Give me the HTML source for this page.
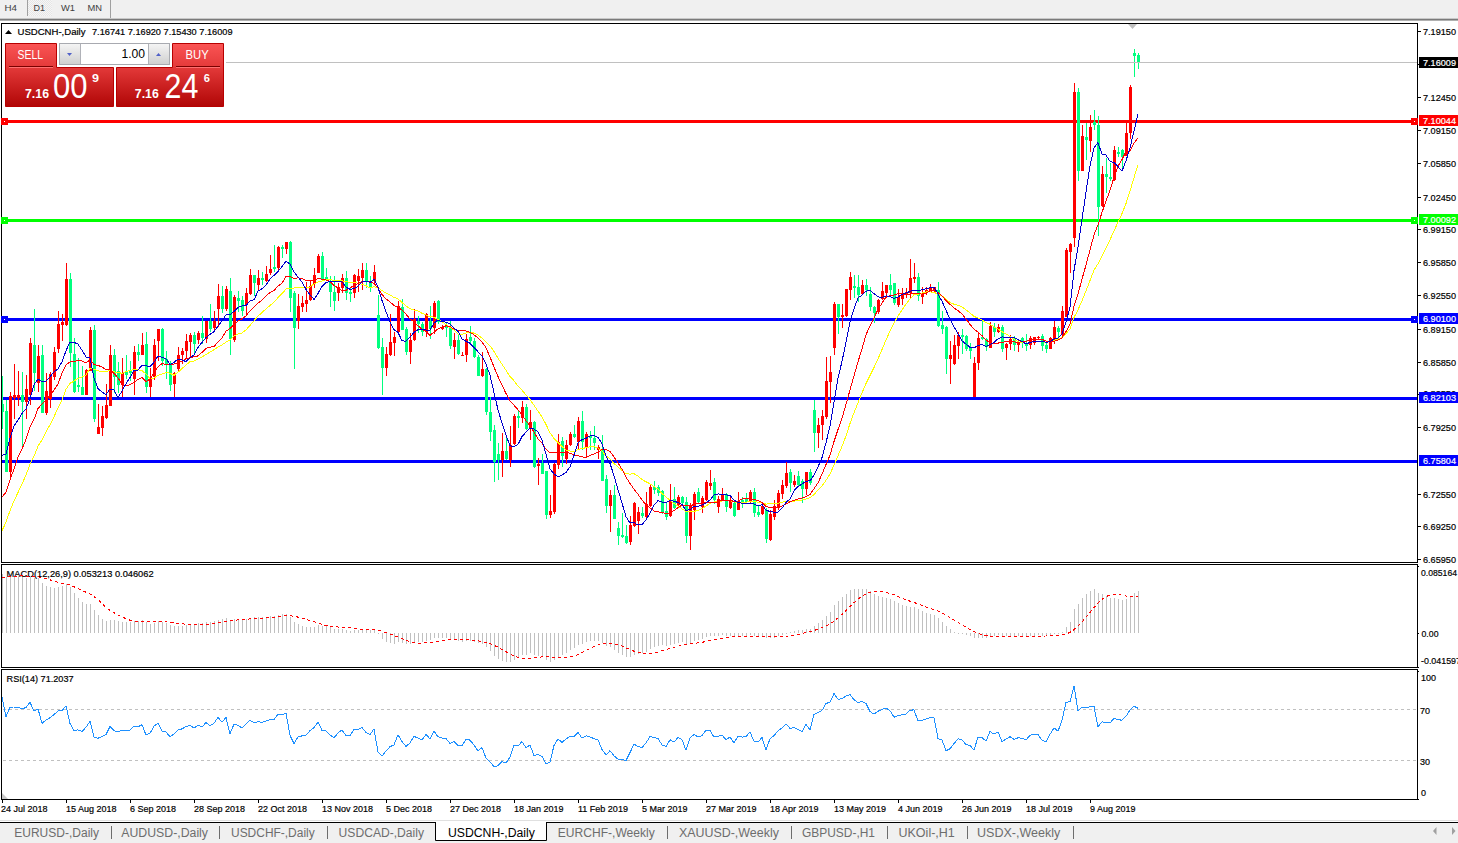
<!DOCTYPE html>
<html><head><meta charset="utf-8"><title>USDCNH Daily</title>
<style>html,body{margin:0;padding:0;background:#fff;width:1458px;height:843px;overflow:hidden;font-family:"Liberation Sans", sans-serif;}svg{display:block}</style>
</head><body><svg width="1458" height="843" viewBox="0 0 1458 843" font-family='"Liberation Sans", sans-serif'><rect x="0" y="0" width="1458" height="19" fill="#f0f0f0"/>
<rect x="0" y="18" width="1458" height="1" fill="#c8c8c8"/>
<rect x="0" y="19" width="1458" height="1" fill="#7a7a7a"/>
<rect x="0" y="20" width="1458" height="1" fill="#b0b0b0"/>
<defs><pattern id="chk" width="2" height="2" patternUnits="userSpaceOnUse"><rect width="2" height="2" fill="#f6f6f6"/><rect width="1" height="1" fill="#e6e6e6"/><rect x="1" y="1" width="1" height="1" fill="#e6e6e6"/></pattern><linearGradient id="rg" x1="0" y1="0" x2="0" y2="1"><stop offset="0" stop-color="#f65252"/><stop offset="1" stop-color="#e02a2a"/></linearGradient><linearGradient id="rg2" x1="0" y1="0" x2="0" y2="1"><stop offset="0" stop-color="#e03434"/><stop offset="1" stop-color="#b20606"/></linearGradient><linearGradient id="gg" x1="0" y1="0" x2="0" y2="1"><stop offset="0" stop-color="#f4f4f4"/><stop offset="1" stop-color="#d0d0d0"/></linearGradient><clipPath id="mainclip"><rect x="2" y="24" width="1415" height="538"/></clipPath></defs>
<rect x="28" y="0" width="24" height="16" fill="url(#chk)"/>
<rect x="27" y="0" width="1" height="16" fill="#a0a0a0"/>
<rect x="110" y="0" width="1" height="18" fill="#a0a0a0"/>
<text x="4.5" y="11" font-size="9.5" fill="#404040" font-weight="normal" text-anchor="start" textLength="12.5" lengthAdjust="spacingAndGlyphs" >H4</text>
<text x="33.5" y="11" font-size="9.5" fill="#404040" font-weight="normal" text-anchor="start" textLength="11.5" lengthAdjust="spacingAndGlyphs" >D1</text>
<text x="61" y="11" font-size="9.5" fill="#404040" font-weight="normal" text-anchor="start" textLength="14" lengthAdjust="spacingAndGlyphs" >W1</text>
<text x="87.5" y="11" font-size="9.5" fill="#404040" font-weight="normal" text-anchor="start" textLength="14.5" lengthAdjust="spacingAndGlyphs" >MN</text>
<rect x="1.5" y="23.5" width="1416" height="539" fill="none" stroke="#000" stroke-width="1"/>
<rect x="1.5" y="564.5" width="1416" height="103" fill="none" stroke="#000" stroke-width="1"/>
<rect x="1.5" y="669.5" width="1416" height="130" fill="none" stroke="#000" stroke-width="1"/>
<rect x="1418" y="31" width="3" height="1" fill="#000"/>
<text x="1423" y="35" font-size="9.6" fill="#000" font-weight="normal" text-anchor="start" stroke="#000" stroke-width="0.2" textLength="33" lengthAdjust="spacingAndGlyphs" >7.19150</text>
<rect x="1418" y="97" width="3" height="1" fill="#000"/>
<text x="1423" y="101" font-size="9.6" fill="#000" font-weight="normal" text-anchor="start" stroke="#000" stroke-width="0.2" textLength="33" lengthAdjust="spacingAndGlyphs" >7.12450</text>
<rect x="1418" y="130" width="3" height="1" fill="#000"/>
<text x="1423" y="134" font-size="9.6" fill="#000" font-weight="normal" text-anchor="start" stroke="#000" stroke-width="0.2" textLength="33" lengthAdjust="spacingAndGlyphs" >7.09150</text>
<rect x="1418" y="163" width="3" height="1" fill="#000"/>
<text x="1423" y="167" font-size="9.6" fill="#000" font-weight="normal" text-anchor="start" stroke="#000" stroke-width="0.2" textLength="33" lengthAdjust="spacingAndGlyphs" >7.05850</text>
<rect x="1418" y="197" width="3" height="1" fill="#000"/>
<text x="1423" y="201" font-size="9.6" fill="#000" font-weight="normal" text-anchor="start" stroke="#000" stroke-width="0.2" textLength="33" lengthAdjust="spacingAndGlyphs" >7.02450</text>
<rect x="1418" y="229" width="3" height="1" fill="#000"/>
<text x="1423" y="233" font-size="9.6" fill="#000" font-weight="normal" text-anchor="start" stroke="#000" stroke-width="0.2" textLength="33" lengthAdjust="spacingAndGlyphs" >6.99150</text>
<rect x="1418" y="262" width="3" height="1" fill="#000"/>
<text x="1423" y="266" font-size="9.6" fill="#000" font-weight="normal" text-anchor="start" stroke="#000" stroke-width="0.2" textLength="33" lengthAdjust="spacingAndGlyphs" >6.95850</text>
<rect x="1418" y="295" width="3" height="1" fill="#000"/>
<text x="1423" y="299" font-size="9.6" fill="#000" font-weight="normal" text-anchor="start" stroke="#000" stroke-width="0.2" textLength="33" lengthAdjust="spacingAndGlyphs" >6.92550</text>
<rect x="1418" y="329" width="3" height="1" fill="#000"/>
<text x="1423" y="333" font-size="9.6" fill="#000" font-weight="normal" text-anchor="start" stroke="#000" stroke-width="0.2" textLength="33" lengthAdjust="spacingAndGlyphs" >6.89150</text>
<rect x="1418" y="362" width="3" height="1" fill="#000"/>
<text x="1423" y="366" font-size="9.6" fill="#000" font-weight="normal" text-anchor="start" stroke="#000" stroke-width="0.2" textLength="33" lengthAdjust="spacingAndGlyphs" >6.85850</text>
<rect x="1418" y="427" width="3" height="1" fill="#000"/>
<text x="1423" y="431" font-size="9.6" fill="#000" font-weight="normal" text-anchor="start" stroke="#000" stroke-width="0.2" textLength="33" lengthAdjust="spacingAndGlyphs" >6.79250</text>
<rect x="1418" y="494" width="3" height="1" fill="#000"/>
<text x="1423" y="498" font-size="9.6" fill="#000" font-weight="normal" text-anchor="start" stroke="#000" stroke-width="0.2" textLength="33" lengthAdjust="spacingAndGlyphs" >6.72550</text>
<rect x="1418" y="526" width="3" height="1" fill="#000"/>
<text x="1423" y="530" font-size="9.6" fill="#000" font-weight="normal" text-anchor="start" stroke="#000" stroke-width="0.2" textLength="33" lengthAdjust="spacingAndGlyphs" >6.69250</text>
<rect x="1418" y="559" width="3" height="1" fill="#000"/>
<text x="1423" y="563" font-size="9.6" fill="#000" font-weight="normal" text-anchor="start" stroke="#000" stroke-width="0.2" textLength="33" lengthAdjust="spacingAndGlyphs" >6.65950</text>
<rect x="1418" y="394" width="2" height="1" fill="#000"/>
<text x="1423" y="397" font-size="9.6" fill="#000" font-weight="normal" text-anchor="start" stroke="#000" stroke-width="0.2" textLength="33" lengthAdjust="spacingAndGlyphs" >6.82550</text>
<rect x="1418" y="64" width="2" height="1" fill="#000"/>
<text x="1423" y="67" font-size="9.6" fill="#000" font-weight="normal" text-anchor="start" stroke="#000" stroke-width="0.2" textLength="33" lengthAdjust="spacingAndGlyphs" >7.15850</text>
<rect x="2" y="120" width="1415" height="3" fill="#ff0000"/>
<rect x="1" y="118" width="7" height="7" fill="#ff0000"/><rect x="4" y="121" width="1" height="1" fill="#fff"/>
<rect x="1411" y="118" width="7" height="7" fill="#ff0000"/><rect x="1414" y="121" width="1" height="1" fill="#fff"/>
<rect x="1419" y="115" width="39" height="11" fill="#ff0000"/>
<text x="1423" y="124" font-size="9.6" fill="#fff" font-weight="normal" text-anchor="start" stroke="#fff" stroke-width="0.2" textLength="33" lengthAdjust="spacingAndGlyphs" >7.10044</text>
<rect x="2" y="219" width="1415" height="3" fill="#00ff00"/>
<rect x="1" y="217" width="7" height="7" fill="#00ff00"/><rect x="4" y="220" width="1" height="1" fill="#fff"/>
<rect x="1411" y="217" width="7" height="7" fill="#00ff00"/><rect x="1414" y="220" width="1" height="1" fill="#fff"/>
<rect x="1419" y="214" width="39" height="11" fill="#00ff00"/>
<text x="1423" y="223" font-size="9.6" fill="#fff" font-weight="normal" text-anchor="start" stroke="#fff" stroke-width="0.2" textLength="33" lengthAdjust="spacingAndGlyphs" >7.00092</text>
<rect x="2" y="318" width="1415" height="3" fill="#0000ff"/>
<rect x="1" y="316" width="7" height="7" fill="#0000ff"/><rect x="4" y="319" width="1" height="1" fill="#fff"/>
<rect x="1411" y="316" width="7" height="7" fill="#0000ff"/><rect x="1414" y="319" width="1" height="1" fill="#fff"/>
<rect x="1419" y="313" width="39" height="11" fill="#0000ff"/>
<text x="1423" y="322" font-size="9.6" fill="#fff" font-weight="normal" text-anchor="start" stroke="#fff" stroke-width="0.2" textLength="33" lengthAdjust="spacingAndGlyphs" >6.90100</text>
<rect x="2" y="397" width="1415" height="3" fill="#0000ff"/>
<rect x="1419" y="392" width="39" height="11" fill="#0000ff"/>
<text x="1423" y="401" font-size="9.6" fill="#fff" font-weight="normal" text-anchor="start" stroke="#fff" stroke-width="0.2" textLength="33" lengthAdjust="spacingAndGlyphs" >6.82103</text>
<rect x="2" y="460" width="1415" height="3" fill="#0000ff"/>
<rect x="1419" y="455" width="39" height="11" fill="#0000ff"/>
<text x="1423" y="464" font-size="9.6" fill="#fff" font-weight="normal" text-anchor="start" stroke="#fff" stroke-width="0.2" textLength="33" lengthAdjust="spacingAndGlyphs" >6.75804</text>
<g clip-path="url(#mainclip)">
<path d="M10 392h1v88h-1zM9 396h3v76h-3zM14 364h1v55h-1zM13 395h3v3h-3zM18 371h1v35h-1zM17 395h3v3h-3zM26 375h1v44h-1zM25 389h3v13h-3zM30 338h1v67h-1zM29 343h3v52h-3zM38 345h1v47h-1zM37 356h3v27h-3zM46 373h1v42h-1zM45 391h3v22h-3zM50 372h1v36h-1zM49 374h3v25h-3zM54 347h1v33h-1zM53 352h3v25h-3zM58 311h1v42h-1zM57 324h3v25h-3zM62 314h1v27h-1zM61 322h3v3h-3zM66 263h1v63h-1zM65 279h3v46h-3zM86 369h1v26h-1zM85 370h3v25h-3zM90 327h1v44h-1zM89 330h3v41h-3zM98 404h1v30h-1zM97 427h3v7h-3zM102 406h1v30h-1zM101 416h3v12h-3zM106 384h1v35h-1zM105 405h3v13h-3zM110 345h1v61h-1zM109 355h3v51h-3zM122 358h1v39h-1zM121 373h3v12h-3zM134 346h1v49h-1zM133 352h3v27h-3zM142 333h1v22h-1zM141 345h3v10h-3zM150 368h1v29h-1zM149 379h3v8h-3zM154 339h1v41h-1zM153 345h3v32h-3zM158 329h1v32h-1zM157 329h3v12h-3zM174 372h1v25h-1zM173 373h3v11h-3zM178 347h1v24h-1zM177 355h3v14h-3zM182 348h1v16h-1zM181 351h3v4h-3zM186 334h1v24h-1zM185 341h3v10h-3zM190 333h1v24h-1zM189 335h3v7h-3zM198 331h1v13h-1zM197 333h3v7h-3zM206 321h1v22h-1zM205 321h3v18h-3zM214 311h1v19h-1zM213 321h3v7h-3zM218 284h1v43h-1zM217 296h3v13h-3zM226 286h1v25h-1zM225 289h3v20h-3zM234 295h1v47h-1zM233 297h3v43h-3zM246 288h1v27h-1zM245 293h3v12h-3zM250 269h1v26h-1zM249 275h3v19h-3zM258 270h1v21h-1zM257 278h3v7h-3zM266 266h1v16h-1zM265 274h3v7h-3zM270 255h1v20h-1zM269 269h3v4h-3zM278 246h1v24h-1zM277 247h3v21h-3zM286 242h1v12h-1zM285 242h3v7h-3zM298 294h1v35h-1zM297 306h3v15h-3zM302 296h1v16h-1zM301 303h3v4h-3zM306 282h1v30h-1zM305 300h3v4h-3zM310 281h1v20h-1zM309 286h3v14h-3zM314 268h1v20h-1zM313 275h3v9h-3zM318 254h1v19h-1zM317 256h3v17h-3zM338 283h1v18h-1zM337 287h3v6h-3zM342 274h1v19h-1zM341 278h3v10h-3zM354 274h1v24h-1zM353 275h3v18h-3zM358 269h1v23h-1zM357 276h3v5h-3zM362 263h1v27h-1zM361 270h3v8h-3zM374 265h1v19h-1zM373 272h3v9h-3zM386 347h1v29h-1zM385 354h3v14h-3zM390 314h1v42h-1zM389 342h3v13h-3zM394 332h1v24h-1zM393 337h3v6h-3zM398 301h1v32h-1zM397 306h3v26h-3zM410 333h1v31h-1zM409 340h3v12h-3zM414 309h1v32h-1zM413 319h3v21h-3zM426 313h1v24h-1zM425 314h3v18h-3zM434 301h1v33h-1zM433 303h3v25h-3zM442 325h1v5h-1zM441 327h3v2h-3zM454 333h1v26h-1zM453 340h3v7h-3zM462 352h1v4h-1zM461 355h3v1h-3zM466 334h1v28h-1zM465 339h3v16h-3zM482 352h1v25h-1zM481 369h3v7h-3zM502 433h1v44h-1zM501 451h3v9h-3zM510 426h1v41h-1zM509 445h3v15h-3zM514 414h1v31h-1zM513 416h3v28h-3zM522 401h1v22h-1zM521 407h3v11h-3zM530 410h1v30h-1zM529 422h3v7h-3zM538 458h1v27h-1zM537 464h3v2h-3zM550 495h1v23h-1zM549 511h3v4h-3zM554 463h1v51h-1zM553 464h3v48h-3zM558 434h1v35h-1zM557 442h3v23h-3zM566 440h1v24h-1zM565 445h3v14h-3zM570 432h1v14h-1zM569 434h3v11h-3zM578 417h1v33h-1zM577 421h3v21h-3zM586 432h1v26h-1zM585 434h3v14h-3zM598 445h1v14h-1zM597 447h3v3h-3zM610 490h1v42h-1zM609 495h3v11h-3zM630 516h1v29h-1zM629 525h3v17h-3zM634 502h1v25h-1zM633 503h3v23h-3zM638 507h1v27h-1zM637 512h3v9h-3zM646 492h1v26h-1zM645 504h3v13h-3zM650 485h1v22h-1zM649 487h3v19h-3zM670 484h1v33h-1zM669 501h3v15h-3zM678 495h1v12h-1zM677 497h3v8h-3zM690 503h1v47h-1zM689 505h3v31h-3zM694 492h1v28h-1zM693 494h3v16h-3zM702 496h1v17h-1zM701 498h3v9h-3zM706 480h1v21h-1zM705 482h3v18h-3zM710 470h1v20h-1zM709 483h3v3h-3zM718 496h1v17h-1zM717 499h3v8h-3zM722 488h1v12h-1zM721 495h3v5h-3zM730 496h1v13h-1zM729 501h3v7h-3zM738 492h1v18h-1zM737 501h3v9h-3zM750 490h1v13h-1zM749 492h3v9h-3zM762 504h1v11h-1zM761 506h3v8h-3zM770 510h1v31h-1zM769 514h3v26h-3zM774 500h1v20h-1zM773 506h3v11h-3zM778 490h1v20h-1zM777 493h3v14h-3zM782 480h1v19h-1zM781 485h3v9h-3zM786 462h1v26h-1zM785 473h3v13h-3zM794 475h1v12h-1zM793 481h3v4h-3zM806 472h1v23h-1zM805 472h3v17h-3zM818 418h1v30h-1zM817 425h3v8h-3zM822 410h1v30h-1zM821 416h3v9h-3zM826 357h1v62h-1zM825 381h3v36h-3zM830 356h1v47h-1zM829 372h3v10h-3zM834 302h1v53h-1zM833 304h3v44h-3zM842 304h1v24h-1zM841 315h3v2h-3zM846 289h1v28h-1zM845 289h3v27h-3zM850 272h1v28h-1zM849 277h3v13h-3zM862 280h1v15h-1zM861 285h3v9h-3zM878 299h1v15h-1zM877 300h3v12h-3zM882 282h1v18h-1zM881 291h3v8h-3zM886 285h1v13h-1zM885 285h3v8h-3zM898 289h1v18h-1zM897 297h3v8h-3zM902 288h1v17h-1zM901 294h3v5h-3zM906 288h1v10h-1zM905 292h3v3h-3zM910 259h1v39h-1zM909 278h3v15h-3zM914 263h1v20h-1zM913 277h3v2h-3zM922 287h1v17h-1zM921 294h3v3h-3zM926 287h1v8h-1zM925 290h3v3h-3zM930 284h1v8h-1zM929 287h3v5h-3zM934 287h1v5h-1zM933 287h3v4h-3zM950 341h1v43h-1zM949 355h3v4h-3zM954 335h1v30h-1zM953 345h3v19h-3zM958 332h1v27h-1zM957 335h3v11h-3zM974 357h1v40h-1zM973 363h3v34h-3zM978 333h1v37h-1zM977 338h3v25h-3zM990 322h1v26h-1zM989 326h3v22h-3zM998 324h1v9h-1zM997 327h3v5h-3zM1006 343h1v17h-1zM1005 344h3v4h-3zM1010 335h1v15h-1zM1009 339h3v5h-3zM1018 340h1v12h-1zM1017 342h3v3h-3zM1030 336h1v13h-1zM1029 338h3v7h-3zM1034 337h1v8h-1zM1033 337h3v6h-3zM1038 336h1v4h-1zM1037 337h3v1h-3zM1050 337h1v12h-1zM1049 338h3v11h-3zM1054 321h1v23h-1zM1053 327h3v12h-3zM1062 306h1v32h-1zM1061 311h3v24h-3zM1066 248h1v69h-1zM1065 250h3v67h-3zM1070 243h1v30h-1zM1069 244h3v8h-3zM1074 83h1v164h-1zM1073 92h3v146h-3zM1082 125h1v46h-1zM1081 136h3v35h-3zM1090 115h1v37h-1zM1089 127h3v14h-3zM1102 166h1v41h-1zM1101 174h3v32h-3zM1114 146h1v35h-1zM1113 150h3v30h-3zM1126 122h1v34h-1zM1125 133h3v23h-3zM1130 85h1v54h-1zM1129 87h3v46h-3z" fill="#ff0000"/>
<path d="M2 376h1v53h-1zM1 404h3v8h-3zM6 400h1v72h-1zM5 411h3v61h-3zM22 372h1v75h-1zM21 395h3v7h-3zM34 309h1v82h-1zM33 345h3v28h-3zM42 345h1v68h-1zM41 355h3v58h-3zM70 273h1v94h-1zM69 279h3v74h-3zM74 338h1v55h-1zM73 354h3v38h-3zM78 358h1v34h-1zM77 385h3v2h-3zM82 366h1v29h-1zM81 387h3v8h-3zM94 325h1v97h-1zM93 330h3v89h-3zM114 349h1v44h-1zM113 355h3v22h-3zM118 362h1v31h-1zM117 371h3v14h-3zM126 355h1v24h-1zM125 371h3v4h-3zM130 361h1v20h-1zM129 370h3v3h-3zM138 344h1v17h-1zM137 352h3v3h-3zM146 332h1v61h-1zM145 344h3v43h-3zM162 328h1v38h-1zM161 329h3v32h-3zM166 351h1v28h-1zM165 359h3v6h-3zM170 361h1v30h-1zM169 365h3v20h-3zM194 332h1v21h-1zM193 335h3v9h-3zM202 316h1v28h-1zM201 333h3v5h-3zM210 304h1v28h-1zM209 321h3v8h-3zM222 286h1v27h-1zM221 296h3v13h-3zM230 278h1v77h-1zM229 291h3v48h-3zM238 291h1v21h-1zM237 298h3v3h-3zM242 296h1v20h-1zM241 300h3v11h-3zM254 275h1v21h-1zM253 275h3v8h-3zM262 272h1v13h-1zM261 278h3v2h-3zM274 245h1v27h-1zM273 267h3v2h-3zM282 245h1v13h-1zM281 247h3v2h-3zM290 241h1v71h-1zM289 242h3v56h-3zM294 291h1v78h-1zM293 293h3v35h-3zM322 252h1v28h-1zM321 256h3v23h-3zM326 268h1v13h-1zM325 277h3v3h-3zM330 276h1v31h-1zM329 281h3v11h-3zM334 276h1v35h-1zM333 292h3v9h-3zM346 271h1v29h-1zM345 278h3v15h-3zM350 288h1v14h-1zM349 292h3v2h-3zM366 263h1v25h-1zM365 270h3v12h-3zM370 276h1v16h-1zM369 282h3v5h-3zM378 295h1v54h-1zM377 315h3v33h-3zM382 338h1v57h-1zM381 347h3v21h-3zM402 299h1v31h-1zM401 307h3v23h-3zM406 327h1v28h-1zM405 329h3v23h-3zM418 316h1v17h-1zM417 321h3v3h-3zM422 322h1v14h-1zM421 324h3v8h-3zM430 306h1v33h-1zM429 321h3v8h-3zM438 300h1v24h-1zM437 301h3v21h-3zM446 322h1v15h-1zM445 326h3v2h-3zM450 321h1v28h-1zM449 327h3v19h-3zM458 335h1v20h-1zM457 340h3v14h-3zM470 326h1v17h-1zM469 337h3v4h-3zM474 338h1v20h-1zM473 341h3v16h-3zM478 355h1v21h-1zM477 357h3v19h-3zM486 368h1v47h-1zM485 369h3v43h-3zM490 397h1v44h-1zM489 412h3v20h-3zM494 425h1v57h-1zM493 430h3v32h-3zM498 443h1v37h-1zM497 454h3v6h-3zM506 437h1v23h-1zM505 451h3v8h-3zM518 411h1v17h-1zM517 416h3v2h-3zM526 404h1v26h-1zM525 407h3v22h-3zM534 421h1v47h-1zM533 422h3v45h-3zM542 454h1v20h-1zM541 463h3v11h-3zM546 471h1v48h-1zM545 471h3v44h-3zM562 437h1v30h-1zM561 441h3v15h-3zM574 425h1v13h-1zM573 434h3v3h-3zM582 411h1v39h-1zM581 421h3v21h-3zM590 431h1v19h-1zM589 436h3v2h-3zM594 426h1v24h-1zM593 438h3v5h-3zM602 435h1v46h-1zM601 450h3v31h-3zM606 475h1v38h-1zM605 479h3v27h-3zM614 485h1v34h-1zM613 495h3v24h-3zM618 522h1v23h-1zM617 528h3v8h-3zM622 513h1v25h-1zM621 535h3v2h-3zM626 525h1v19h-1zM625 536h3v7h-3zM642 507h1v11h-1zM641 513h3v3h-3zM654 481h1v13h-1zM653 487h3v3h-3zM658 485h1v11h-1zM657 487h3v6h-3zM662 490h1v24h-1zM661 491h3v21h-3zM666 503h1v17h-1zM665 511h3v6h-3zM674 487h1v22h-1zM673 499h3v9h-3zM682 496h1v8h-1zM681 497h3v6h-3zM686 497h1v46h-1zM685 502h3v34h-3zM698 488h1v16h-1zM697 492h3v10h-3zM714 478h1v26h-1zM713 482h3v18h-3zM726 493h1v19h-1zM725 494h3v13h-3zM734 501h1v16h-1zM733 503h3v13h-3zM742 497h1v11h-1zM741 500h3v3h-3zM746 493h1v10h-1zM745 499h3v3h-3zM754 488h1v29h-1zM753 492h3v21h-3zM758 505h1v12h-1zM757 512h3v3h-3zM766 508h1v35h-1zM765 510h3v29h-3zM790 469h1v23h-1zM789 472h3v11h-3zM798 471h1v16h-1zM797 476h3v9h-3zM802 479h1v24h-1zM801 481h3v8h-3zM810 469h1v16h-1zM809 472h3v11h-3zM814 400h1v52h-1zM813 410h3v23h-3zM838 304h1v30h-1zM837 304h3v13h-3zM854 275h1v23h-1zM853 286h3v2h-3zM858 275h1v27h-1zM857 287h3v8h-3zM866 279h1v17h-1zM865 285h3v5h-3zM870 287h1v24h-1zM869 294h3v13h-3zM874 306h1v17h-1zM873 307h3v6h-3zM890 274h1v21h-1zM889 285h3v5h-3zM894 283h1v22h-1zM893 283h3v20h-3zM918 273h1v28h-1zM917 277h3v19h-3zM938 282h1v45h-1zM937 290h3v36h-3zM942 311h1v23h-1zM941 325h3v4h-3zM946 326h1v48h-1zM945 327h3v32h-3zM962 329h1v25h-1zM961 335h3v2h-3zM966 335h1v16h-1zM965 336h3v13h-3zM970 343h1v16h-1zM969 347h3v4h-3zM982 321h1v19h-1zM981 337h3v2h-3zM986 338h1v13h-1zM985 339h3v8h-3zM994 323h1v14h-1zM993 327h3v5h-3zM1002 325h1v27h-1zM1001 327h3v22h-3zM1014 336h1v15h-1zM1013 338h3v7h-3zM1022 337h1v11h-1zM1021 338h3v5h-3zM1026 334h1v17h-1zM1025 343h3v3h-3zM1042 334h1v17h-1zM1041 336h3v10h-3zM1046 343h1v10h-1zM1045 345h3v4h-3zM1058 326h1v12h-1zM1057 328h3v4h-3zM1078 88h1v93h-1zM1077 92h3v79h-3zM1086 123h1v37h-1zM1085 137h3v3h-3zM1094 110h1v20h-1zM1093 122h3v3h-3zM1098 116h1v120h-1zM1097 125h3v82h-3zM1106 158h1v35h-1zM1105 174h3v3h-3zM1110 163h1v18h-1zM1109 177h3v2h-3zM1118 147h1v10h-1zM1117 152h3v2h-3zM1122 149h1v20h-1zM1121 150h3v7h-3zM1134 49h1v28h-1zM1133 53h3v3h-3zM1138 53h1v16h-1zM1137 55h3v8h-3z" fill="#00ff7f"/>
</g>
<rect x="226" y="62" width="1191" height="1" fill="#c0c0c0"/>
<rect x="1419" y="57" width="39" height="11" fill="#000"/>
<text x="1423" y="66" font-size="9.6" fill="#fff" font-weight="normal" text-anchor="start" stroke="#fff" stroke-width="0.2" textLength="33" lengthAdjust="spacingAndGlyphs" >7.16009</text>
<path d="M5 34 L8.5 30 L12 34 Z" fill="#000"/>
<text x="17.5" y="35" font-size="9.6" fill="#000" font-weight="normal" text-anchor="start" stroke="#000" stroke-width="0.2" textLength="68" lengthAdjust="spacingAndGlyphs" >USDCNH-,Daily</text>
<text x="92" y="35" font-size="9.6" fill="#000" font-weight="normal" text-anchor="start" stroke="#000" stroke-width="0.2" textLength="140.5" lengthAdjust="spacingAndGlyphs" >7.16741 7.16920 7.15430 7.16009</text>
<rect x="1418" y="566" width="1" height="1" fill="#000"/>
<rect x="1418" y="633" width="1" height="1" fill="#000"/>
<rect x="1418" y="667" width="1" height="1" fill="#000"/>
<rect x="1418" y="671" width="1" height="1" fill="#000"/>
<rect x="1418" y="799" width="1" height="1" fill="#000"/>
<text x="1421" y="576" font-size="9.6" fill="#000" font-weight="normal" text-anchor="start" stroke="#000" stroke-width="0.2" textLength="36" lengthAdjust="spacingAndGlyphs" >0.085164</text>
<text x="1421.5" y="637" font-size="9.6" fill="#000" font-weight="normal" text-anchor="start" stroke="#000" stroke-width="0.2" textLength="17" lengthAdjust="spacingAndGlyphs" >0.00</text>
<text x="1421" y="664" font-size="9.6" fill="#000" font-weight="normal" text-anchor="start" stroke="#000" stroke-width="0.2" textLength="40" lengthAdjust="spacingAndGlyphs" >-0.041597</text>
<text x="1421" y="681" font-size="9.6" fill="#000" font-weight="normal" text-anchor="start" stroke="#000" stroke-width="0.2" textLength="15" lengthAdjust="spacingAndGlyphs" >100</text>
<text x="1420" y="714" font-size="9.6" fill="#000" font-weight="normal" text-anchor="start" stroke="#000" stroke-width="0.2" textLength="10" lengthAdjust="spacingAndGlyphs" >70</text>
<text x="1420" y="765" font-size="9.6" fill="#000" font-weight="normal" text-anchor="start" stroke="#000" stroke-width="0.2" textLength="10" lengthAdjust="spacingAndGlyphs" >30</text>
<text x="1421" y="796" font-size="9.6" fill="#000" font-weight="normal" text-anchor="start" stroke="#000" stroke-width="0.2" textLength="5" lengthAdjust="spacingAndGlyphs" >0</text>
<text x="6.6" y="577" font-size="9.6" fill="#000" font-weight="normal" text-anchor="start" stroke="#000" stroke-width="0.2" textLength="147" lengthAdjust="spacingAndGlyphs" >MACD(12,26,9) 0.053213 0.046062</text>
<text x="6.6" y="682" font-size="9.6" fill="#000" font-weight="normal" text-anchor="start" stroke="#000" stroke-width="0.2" textLength="67" lengthAdjust="spacingAndGlyphs" >RSI(14) 71.2037</text>
<line x1="3" y1="709.5" x2="1417" y2="709.5" stroke="#c0c0c0" stroke-dasharray="3,3"/>
<line x1="3" y1="760.5" x2="1417" y2="760.5" stroke="#c0c0c0" stroke-dasharray="3,3"/>
<g clip-path="url(#mainclip)">
<polyline points="2,530.7 6,522.2 10,510.6 14,500.8 18,492.5 22,484.0 26,474.9 30,464.4 34,456.3 38,446.2 42,439.8 46,431.8 50,424.9 54,416.8 58,407.8 62,400.1 66,389.3 70,383.2 74,381.2 78,378.2 82,376.9 86,374.9 90,368.1 94,369.2 98,370.8 102,371.8 106,371.9 110,370.3 114,371.9 118,372.5 122,373.3 126,371.5 130,370.6 134,369.6 138,369.7 142,370.7 146,373.8 150,378.6 154,378.2 158,375.2 162,374.0 166,372.5 170,373.2 174,375.3 178,372.2 182,368.6 186,365.0 190,361.7 194,361.2 198,359.1 202,356.9 206,354.4 210,352.2 214,349.7 218,347.0 222,344.9 226,342.2 230,339.9 234,336.0 238,333.9 242,333.0 246,329.8 250,325.5 254,320.7 258,316.1 262,312.6 266,308.9 270,305.5 274,302.3 278,297.7 282,293.7 286,289.1 290,288.0 294,288.0 298,287.3 302,287.6 306,287.2 310,287.0 314,284.0 318,282.0 322,281.0 326,279.5 330,279.5 334,280.7 338,280.9 342,280.9 346,281.5 350,282.5 354,282.8 358,283.1 362,284.2 366,285.8 370,287.9 374,286.7 378,287.6 382,290.6 386,293.0 390,295.0 394,297.4 398,298.9 402,302.4 406,305.9 410,308.8 414,310.0 418,311.1 422,313.3 426,315.0 430,316.7 434,317.1 438,319.4 442,321.8 446,324.6 450,327.6 454,330.1 458,334.0 462,334.4 466,333.0 470,332.4 474,333.1 478,335.0 482,338.0 486,341.9 490,345.7 494,351.5 498,358.2 502,364.2 506,370.3 510,376.5 514,380.7 518,386.1 522,390.2 526,395.0 530,399.5 534,405.3 538,411.2 542,416.9 546,424.5 550,432.7 554,438.6 558,442.6 562,446.4 566,450.0 570,451.1 574,451.3 578,449.4 582,448.5 586,447.7 590,446.7 594,446.6 598,448.1 602,451.1 606,455.8 610,459.0 614,463.6 618,466.9 622,470.3 626,473.6 630,474.1 634,473.7 638,476.0 642,479.5 646,481.8 650,483.8 654,486.5 658,489.1 662,493.5 666,497.0 670,500.2 674,503.6 678,506.1 682,508.8 686,511.4 690,511.4 694,511.3 698,510.5 702,508.7 706,506.1 710,503.2 714,502.0 718,501.9 722,501.0 726,500.6 730,500.5 734,501.9 738,502.4 742,502.9 746,502.4 750,501.2 754,501.8 758,502.1 762,502.5 766,504.2 770,503.2 774,503.2 778,503.2 782,502.4 786,501.2 790,501.2 794,501.1 798,500.4 802,500.0 806,498.9 810,497.7 814,494.5 818,490.1 822,486.1 826,480.3 830,474.1 834,465.1 838,455.8 842,446.3 846,436.0 850,423.5 854,412.7 858,402.7 862,392.8 866,383.5 870,375.6 874,367.5 878,358.9 882,349.6 886,339.9 890,331.2 894,322.7 898,316.2 902,310.0 906,304.0 910,299.1 914,294.6 918,294.2 922,293.1 926,292.0 930,291.9 934,292.3 938,294.1 942,295.8 946,299.3 950,302.4 954,304.2 958,305.2 962,307.0 966,309.8 970,312.9 974,316.4 978,318.0 982,320.0 986,322.6 990,324.2 994,326.8 998,329.1 1002,331.7 1006,334.0 1010,336.4 1014,339.1 1018,341.8 1022,342.6 1026,343.4 1030,342.4 1034,341.5 1038,341.1 1042,341.7 1046,342.2 1050,341.7 1054,340.6 1058,339.1 1062,337.8 1066,333.6 1070,328.7 1074,317.5 1078,309.9 1082,300.8 1086,290.8 1090,280.5 1094,270.3 1098,263.7 1102,255.7 1106,247.8 1110,239.9 1114,230.9 1118,222.2 1122,213.6 1126,203.5 1130,191.0 1134,177.6 1138,165.0" fill="none" stroke="#ffff00" stroke-width="1" shape-rendering="crispEdges" />
<polyline points="2,497.2 6,492.1 10,479.8 14,469.0 18,457.2 22,448.8 26,439.4 30,427.1 34,419.3 38,408.6 42,403.8 46,400.6 50,395.2 54,390.2 58,383.9 62,373.2 66,364.9 70,361.9 74,361.6 78,360.6 82,361.0 86,362.9 90,359.9 94,364.4 98,365.4 102,367.1 106,369.4 110,369.6 114,373.4 118,377.9 122,384.6 126,386.1 130,384.8 134,382.3 138,379.4 142,377.6 146,381.7 150,378.9 154,373.0 158,366.8 162,363.6 166,364.4 170,364.9 174,364.1 178,362.8 182,361.1 186,358.8 190,357.6 194,356.8 198,355.9 202,352.4 206,348.3 210,347.1 214,346.6 218,341.9 222,337.9 226,331.1 230,328.6 234,324.5 238,320.9 242,318.8 246,315.8 250,310.9 254,307.3 258,303.0 262,300.1 266,296.1 270,292.4 274,290.5 278,286.1 282,283.2 286,276.3 290,276.4 294,278.3 298,277.9 302,278.6 306,280.4 310,280.6 314,280.4 318,278.7 322,279.1 326,279.9 330,281.5 334,285.4 338,288.1 342,290.6 346,290.3 350,287.9 354,285.6 358,283.7 362,281.6 366,281.3 370,282.1 374,283.3 378,288.2 382,294.5 386,298.9 390,301.9 394,305.4 398,307.4 402,310.1 406,314.2 410,318.9 414,321.9 418,325.8 422,329.4 426,331.3 430,335.4 434,332.1 438,328.9 442,326.9 446,325.9 450,326.6 454,329.0 458,330.7 462,330.9 466,330.9 470,332.4 474,334.8 478,337.9 482,341.9 486,347.8 490,357.0 494,367.0 498,376.5 502,385.3 506,393.4 510,400.9 514,405.3 518,409.8 522,414.6 526,420.9 530,425.6 534,432.1 538,438.9 542,443.3 546,449.2 550,452.7 554,453.0 558,452.4 562,452.1 566,452.1 570,453.4 574,454.8 578,455.8 582,456.7 586,457.6 590,455.5 594,454.0 598,452.1 602,449.6 606,449.3 610,451.5 614,457.0 618,462.7 622,469.3 626,477.1 630,483.4 634,489.2 638,494.2 642,500.1 646,504.8 650,507.9 654,511.0 658,511.9 662,512.3 666,513.9 670,512.6 674,510.6 678,507.7 682,504.9 686,505.6 690,505.8 694,504.5 698,503.5 702,503.1 706,502.7 710,502.2 714,502.7 718,501.8 722,500.2 726,500.6 730,500.1 734,501.5 738,501.4 742,499.0 746,498.8 750,498.6 754,499.4 758,500.6 762,502.4 766,506.4 770,507.4 774,507.9 778,507.7 782,506.1 786,504.1 790,501.8 794,500.4 798,499.1 802,498.1 806,496.7 810,494.6 814,488.7 818,482.9 822,474.1 826,464.6 830,455.1 834,441.6 838,429.6 842,418.3 846,404.4 850,389.9 854,375.8 858,361.9 862,348.6 866,334.8 870,325.8 874,317.8 878,309.5 882,303.1 886,296.9 890,295.9 894,294.9 898,293.6 902,293.9 906,295.0 910,294.3 914,293.0 918,293.8 922,294.1 926,292.9 930,291.0 934,290.1 938,292.6 942,295.7 946,300.6 950,304.4 954,307.8 958,310.7 962,313.9 966,319.0 970,324.3 974,329.1 978,332.2 982,335.7 986,340.0 990,342.8 994,343.2 998,343.1 1002,342.4 1006,341.6 1010,341.1 1014,341.9 1018,342.2 1022,341.8 1026,341.4 1030,339.6 1034,339.6 1038,339.4 1042,339.4 1046,341.0 1050,341.4 1054,341.4 1058,340.2 1062,337.9 1066,331.5 1070,324.3 1074,306.4 1078,294.1 1082,279.1 1086,265.0 1090,250.0 1094,234.9 1098,224.9 1102,212.4 1106,200.9 1110,190.4 1114,177.4 1118,166.1 1122,159.5 1126,151.6 1130,151.2 1134,143.0 1138,137.8" fill="none" stroke="#ff0000" stroke-width="1" shape-rendering="crispEdges" />
<polyline points="2,455.4 6,454.0 10,438.3 14,426.0 18,420.2 22,413.5 26,408.7 30,398.9 34,384.7 38,379.0 42,381.6 46,381.0 50,377.0 54,371.7 58,369.0 62,361.7 66,350.7 70,342.1 74,342.3 78,344.1 82,350.3 86,356.9 90,358.0 94,378.0 98,388.6 102,392.0 106,394.6 110,388.9 114,389.9 118,397.7 122,391.1 126,383.7 130,377.6 134,370.0 138,370.0 142,365.4 146,365.7 150,366.6 154,362.3 158,356.0 162,357.3 166,358.7 170,364.4 174,362.4 178,359.0 182,359.9 186,361.6 190,357.9 194,354.9 198,347.4 202,342.4 206,337.6 210,334.4 214,331.6 218,326.0 222,321.0 226,314.7 230,314.9 234,311.4 238,307.4 242,306.0 246,305.6 250,300.7 254,299.9 258,291.1 262,288.7 266,284.9 270,278.9 274,275.4 278,271.4 282,266.6 286,261.4 290,264.0 294,271.7 298,277.0 302,281.9 306,289.4 310,294.7 314,299.4 318,293.4 322,286.4 326,282.7 330,281.1 334,281.3 338,281.4 342,281.9 346,287.1 350,289.3 354,288.6 358,286.3 362,281.9 366,281.1 370,282.4 374,279.4 378,287.1 382,300.4 386,311.6 390,321.9 394,329.7 398,332.4 402,340.7 406,341.3 410,337.3 414,332.3 418,329.7 422,329.0 426,330.1 430,330.0 434,323.0 438,320.4 442,321.6 446,322.1 450,324.1 454,327.9 458,331.4 462,338.9 466,341.3 470,343.3 474,347.4 478,351.7 482,355.9 486,364.1 490,375.1 494,392.7 498,409.7 502,423.1 506,435.0 510,445.9 514,446.4 518,444.4 522,436.6 526,432.1 530,428.0 534,429.1 538,431.9 542,440.1 546,454.0 550,468.9 554,473.9 558,476.7 562,475.1 566,472.4 570,466.7 574,455.6 578,442.7 582,439.6 586,438.4 590,435.9 594,435.6 598,437.4 602,443.7 606,455.9 610,463.4 614,475.6 618,489.6 622,503.0 626,516.7 630,523.0 634,522.6 638,525.0 642,524.6 646,520.0 650,512.9 654,505.3 658,500.7 662,502.0 666,502.7 670,500.6 674,501.1 678,502.6 682,504.4 686,510.6 690,509.6 694,506.3 698,506.4 702,505.0 706,502.9 710,500.0 714,494.9 718,494.0 722,494.1 726,494.9 730,495.3 734,500.1 738,502.7 742,503.1 746,503.6 750,503.1 754,504.0 758,506.0 762,504.6 766,510.0 770,511.6 774,512.1 778,512.3 782,508.3 786,502.3 790,499.0 794,490.7 798,486.6 802,484.1 806,481.1 810,480.9 814,475.1 818,466.9 822,457.6 826,442.7 830,426.0 834,402.0 838,378.3 842,361.4 846,342.0 850,322.1 854,308.9 858,297.9 862,295.1 866,291.3 870,290.1 874,293.6 878,296.9 882,297.3 886,295.9 890,296.6 894,298.4 898,297.0 902,294.3 906,293.1 910,291.3 914,290.1 918,291.0 922,289.7 926,288.7 930,287.7 934,287.0 938,293.9 942,301.3 946,310.3 950,319.0 954,326.9 958,333.7 962,340.9 966,344.1 970,347.3 974,347.9 978,345.4 982,344.6 986,346.3 990,344.7 994,342.3 998,338.9 1002,336.9 1006,337.7 1010,337.7 1014,337.4 1018,339.7 1022,341.3 1026,344.0 1030,342.4 1034,341.4 1038,341.1 1042,341.3 1046,342.3 1050,341.6 1054,338.9 1058,338.0 1062,334.3 1066,321.9 1070,307.3 1074,270.6 1078,246.7 1082,219.4 1086,192.0 1090,165.7 1094,147.9 1098,142.6 1102,154.3 1106,155.1 1110,161.3 1114,162.7 1118,166.6 1122,171.1 1126,160.6 1130,148.1 1134,130.9 1138,114.3" fill="none" stroke="#0000cd" stroke-width="1" shape-rendering="crispEdges" />
</g>
<clipPath id="macdclip"><rect x="2" y="565" width="1415" height="102"/></clipPath>
<clipPath id="rsiclip"><rect x="2" y="670" width="1415" height="129"/></clipPath>
<g clip-path="url(#macdclip)"><path d="M2 574h1v59h-1zM6 577h1v56h-1zM10 576h1v57h-1zM14 575h1v58h-1zM18 576h1v57h-1zM22 577h1v56h-1zM26 578h1v55h-1zM30 576h1v57h-1zM34 578h1v55h-1zM38 578h1v55h-1zM42 583h1v50h-1zM46 586h1v47h-1zM50 587h1v46h-1zM54 588h1v45h-1zM58 587h1v46h-1zM62 586h1v47h-1zM66 584h1v49h-1zM70 587h1v46h-1zM74 593h1v40h-1zM78 598h1v35h-1zM82 602h1v31h-1zM86 604h1v29h-1zM90 604h1v29h-1zM94 610h1v23h-1zM98 615h1v18h-1zM102 619h1v14h-1zM106 621h1v12h-1zM110 620h1v13h-1zM114 620h1v13h-1zM118 621h1v12h-1zM122 622h1v11h-1zM126 622h1v11h-1zM130 622h1v11h-1zM134 621h1v12h-1zM138 621h1v12h-1zM142 620h1v13h-1zM146 622h1v11h-1zM150 624h1v9h-1zM154 623h1v10h-1zM158 621h1v12h-1zM162 622h1v11h-1zM166 623h1v10h-1zM170 625h1v8h-1zM174 626h1v7h-1zM178 626h1v7h-1zM182 626h1v7h-1zM186 625h1v8h-1zM190 624h1v9h-1zM194 624h1v9h-1zM198 623h1v10h-1zM202 623h1v10h-1zM206 622h1v11h-1zM210 622h1v11h-1zM214 621h1v12h-1zM218 620h1v13h-1zM222 619h1v14h-1zM226 618h1v15h-1zM230 620h1v13h-1zM234 619h1v14h-1zM238 619h1v14h-1zM242 619h1v14h-1zM246 619h1v14h-1zM250 618h1v15h-1zM254 617h1v16h-1zM258 617h1v16h-1zM262 617h1v16h-1zM266 617h1v16h-1zM270 616h1v17h-1zM274 616h1v17h-1zM278 615h1v18h-1zM282 614h1v19h-1zM286 614h1v19h-1zM290 617h1v16h-1zM294 622h1v11h-1zM298 624h1v9h-1zM302 626h1v7h-1zM306 627h1v6h-1zM310 627h1v6h-1zM314 627h1v6h-1zM318 625h1v8h-1zM322 626h1v7h-1zM326 626h1v7h-1zM330 627h1v6h-1zM334 629h1v4h-1zM338 629h1v4h-1zM342 629h1v4h-1zM346 630h1v3h-1zM350 631h1v2h-1zM354 630h1v3h-1zM358 630h1v3h-1zM362 629h1v4h-1zM366 629h1v4h-1zM370 630h1v3h-1zM374 630h1v3h-1zM378 633h1v1h-1zM382 633h1v6h-1zM386 633h1v9h-1zM390 633h1v10h-1zM394 633h1v11h-1zM398 633h1v9h-1zM402 633h1v10h-1zM406 633h1v11h-1zM410 633h1v11h-1zM414 633h1v10h-1zM418 633h1v9h-1zM422 633h1v9h-1zM426 633h1v8h-1zM430 633h1v7h-1zM434 633h1v5h-1zM438 633h1v5h-1zM442 633h1v5h-1zM446 633h1v5h-1zM450 633h1v6h-1zM454 633h1v7h-1zM458 633h1v8h-1zM462 633h1v9h-1zM466 633h1v8h-1zM470 633h1v8h-1zM474 633h1v9h-1zM478 633h1v10h-1zM482 633h1v11h-1zM486 633h1v14h-1zM490 633h1v18h-1zM494 633h1v23h-1zM498 633h1v26h-1zM502 633h1v28h-1zM506 633h1v29h-1zM510 633h1v29h-1zM514 633h1v27h-1zM518 633h1v25h-1zM522 633h1v22h-1zM526 633h1v22h-1zM530 633h1v20h-1zM534 633h1v22h-1zM538 633h1v23h-1zM542 633h1v24h-1zM546 633h1v27h-1zM550 633h1v29h-1zM554 633h1v27h-1zM558 633h1v24h-1zM562 633h1v22h-1zM566 633h1v20h-1zM570 633h1v17h-1zM574 633h1v15h-1zM578 633h1v12h-1zM582 633h1v11h-1zM586 633h1v9h-1zM590 633h1v8h-1zM594 633h1v8h-1zM598 633h1v8h-1zM602 633h1v10h-1zM606 633h1v13h-1zM610 633h1v14h-1zM614 633h1v17h-1zM618 633h1v20h-1zM622 633h1v22h-1zM626 633h1v24h-1zM630 633h1v24h-1zM634 633h1v22h-1zM638 633h1v21h-1zM642 633h1v20h-1zM646 633h1v19h-1zM650 633h1v16h-1zM654 633h1v14h-1zM658 633h1v13h-1zM662 633h1v12h-1zM666 633h1v13h-1zM670 633h1v12h-1zM674 633h1v11h-1zM678 633h1v10h-1zM682 633h1v9h-1zM686 633h1v11h-1zM690 633h1v10h-1zM694 633h1v8h-1zM698 633h1v7h-1zM702 633h1v6h-1zM706 633h1v4h-1zM710 633h1v3h-1zM714 633h1v3h-1zM718 633h1v3h-1zM722 633h1v2h-1zM726 633h1v3h-1zM730 633h1v3h-1zM734 633h1v4h-1zM738 633h1v3h-1zM742 633h1v3h-1zM746 633h1v3h-1zM750 633h1v2h-1zM754 633h1v3h-1zM758 633h1v4h-1zM762 633h1v3h-1zM766 633h1v5h-1zM770 633h1v5h-1zM774 633h1v5h-1zM778 633h1v3h-1zM782 633h1v2h-1zM786 633h1v1h-1zM790 632h1v1h-1zM794 631h1v2h-1zM798 630h1v3h-1zM802 630h1v3h-1zM806 629h1v4h-1zM810 629h1v4h-1zM814 626h1v7h-1zM818 623h1v10h-1zM822 620h1v13h-1zM826 616h1v17h-1zM830 612h1v21h-1zM834 605h1v28h-1zM838 601h1v32h-1zM842 597h1v36h-1zM846 594h1v39h-1zM850 590h1v43h-1zM854 589h1v44h-1zM858 589h1v44h-1zM862 589h1v44h-1zM866 589h1v44h-1zM870 591h1v42h-1zM874 594h1v39h-1zM878 596h1v37h-1zM882 597h1v36h-1zM886 598h1v35h-1zM890 599h1v34h-1zM894 601h1v32h-1zM898 603h1v30h-1zM902 605h1v28h-1zM906 606h1v27h-1zM910 607h1v26h-1zM914 607h1v26h-1zM918 609h1v24h-1zM922 611h1v22h-1zM926 613h1v20h-1zM930 614h1v19h-1zM934 615h1v18h-1zM938 618h1v15h-1zM942 622h1v11h-1zM946 626h1v7h-1zM950 629h1v4h-1zM954 632h1v1h-1zM958 633h1v1h-1zM962 633h1v1h-1zM966 633h1v2h-1zM970 633h1v3h-1zM974 633h1v5h-1zM978 633h1v5h-1zM982 633h1v5h-1zM986 633h1v5h-1zM990 633h1v4h-1zM994 633h1v3h-1zM998 633h1v2h-1zM1002 633h1v3h-1zM1006 633h1v3h-1zM1010 633h1v3h-1zM1014 633h1v3h-1zM1018 633h1v3h-1zM1022 633h1v3h-1zM1026 633h1v4h-1zM1030 633h1v3h-1zM1034 633h1v3h-1zM1038 633h1v2h-1zM1042 633h1v3h-1zM1046 633h1v3h-1zM1050 633h1v3h-1zM1054 633h1v1h-1zM1058 633h1v1h-1zM1062 632h1v1h-1zM1066 627h1v6h-1zM1070 622h1v11h-1zM1074 609h1v24h-1zM1078 604h1v29h-1zM1082 598h1v35h-1zM1086 594h1v39h-1zM1090 591h1v42h-1zM1094 589h1v44h-1zM1098 593h1v40h-1zM1102 594h1v39h-1zM1106 596h1v37h-1zM1110 598h1v35h-1zM1114 598h1v35h-1zM1118 599h1v34h-1zM1122 600h1v33h-1zM1126 599h1v34h-1zM1130 597h1v36h-1zM1134 593h1v40h-1zM1138 591h1v42h-1z" fill="#c0c0c0"/>
<polyline points="2,577.3 6,577.1 10,576.7 14,576.4 18,576.0 22,575.8 26,576.0 30,576.0 34,576.3 38,576.8 42,577.4 46,578.5 50,579.8 54,581.2 58,582.2 62,583.2 66,584.1 70,585.1 74,586.8 78,588.5 82,590.3 86,592.2 90,594.0 94,596.5 98,599.7 102,603.6 106,607.3 110,610.3 114,612.8 118,614.9 122,616.8 126,618.8 130,620.2 134,620.9 138,621.2 142,621.1 146,621.4 150,621.8 154,622.0 158,621.9 162,621.9 166,621.9 170,622.4 174,622.9 178,623.6 182,623.9 186,624.1 190,624.2 194,624.5 198,624.7 202,624.7 206,624.3 210,623.9 214,623.4 218,622.7 222,622.0 226,621.3 230,620.9 234,620.4 238,619.9 242,619.6 246,619.3 250,618.9 254,618.6 258,618.4 262,618.3 266,617.9 270,617.6 274,617.3 278,616.8 282,616.3 286,615.8 290,615.8 294,616.3 298,617.1 302,618.1 306,619.3 310,620.5 314,621.8 318,623.1 322,624.4 326,625.4 330,626.0 334,626.6 338,627.0 342,627.2 346,627.5 350,627.9 354,628.5 358,628.9 362,629.3 366,629.5 370,629.6 374,629.7 378,630.3 382,631.3 386,632.6 390,634.0 394,635.6 398,637.1 402,638.6 406,640.1 410,641.8 414,642.7 418,643.1 422,643.1 426,642.8 430,642.4 434,641.9 438,641.4 442,640.8 446,640.1 450,639.7 454,639.4 458,639.3 462,639.4 466,639.5 470,639.8 474,640.2 478,640.8 482,641.4 486,642.4 490,643.6 494,645.3 498,647.2 502,649.4 506,651.7 510,654.0 514,655.8 518,657.4 522,658.3 526,658.6 530,658.4 534,657.9 538,657.4 542,656.8 546,656.6 550,656.9 554,657.1 558,657.3 562,657.4 566,657.3 570,656.8 574,655.9 578,654.6 582,652.7 586,650.6 590,648.5 594,646.6 598,645.0 602,643.9 606,643.4 610,643.3 614,643.8 618,644.8 622,646.1 626,647.8 630,649.6 634,651.2 638,652.4 642,653.3 646,653.8 650,653.7 654,653.1 658,652.1 662,650.8 666,649.6 670,648.5 674,647.4 678,646.2 682,645.1 686,644.5 690,644.0 694,643.5 698,642.9 702,642.3 706,641.5 710,640.6 714,639.8 718,639.1 722,638.2 726,637.5 730,636.9 734,636.5 738,636.2 742,636.1 746,636.1 750,636.0 754,636.0 758,636.1 762,636.2 766,636.5 770,636.6 774,636.8 778,636.8 782,636.6 786,636.3 790,635.8 794,635.2 798,634.5 802,633.6 806,632.6 810,631.7 814,630.5 818,629.2 822,627.8 826,626.1 830,624.0 834,621.2 838,617.9 842,614.4 846,610.4 850,606.5 854,602.7 858,599.2 862,596.2 866,593.7 870,592.2 874,591.4 878,591.2 882,591.6 886,592.4 890,593.5 894,594.8 898,596.4 902,598.2 906,599.8 910,601.2 914,602.5 918,603.9 922,605.5 926,607.0 930,608.3 934,609.6 938,611.1 942,612.8 946,615.0 950,617.4 954,619.9 958,622.3 962,624.6 966,627.0 970,629.4 974,631.5 978,633.3 982,634.6 986,635.5 990,636.1 994,636.5 998,636.7 1002,636.8 1006,636.8 1010,636.6 1014,636.5 1018,636.3 1022,636.2 1026,636.2 1030,636.2 1034,636.2 1038,636.1 1042,636.1 1046,636.0 1050,635.9 1054,635.7 1058,635.5 1062,635.0 1066,633.9 1070,632.5 1074,629.6 1078,626.1 1082,621.9 1086,617.3 1090,612.5 1094,607.5 1098,603.1 1102,599.4 1106,596.5 1110,595.2 1114,594.5 1118,594.5 1122,595.1 1126,596.1 1130,596.9 1134,597.0 1138,596.6" fill="none" stroke="#ff0000" stroke-width="1" shape-rendering="crispEdges" stroke-dasharray="3,3"/>
</g>
<g clip-path="url(#rsiclip)">
<polyline points="2,697.2 6,716.6 10,707.1 14,707.0 18,707.0 22,709.1 26,707.4 30,702.2 34,711.1 38,708.9 42,723.4 46,720.1 50,717.7 54,714.6 58,711.0 62,710.8 66,705.8 70,723.4 74,730.7 78,729.9 82,731.5 86,727.2 90,721.2 94,737.1 98,738.3 102,736.4 106,734.5 110,726.5 114,730.6 118,732.0 122,730.0 126,730.4 130,730.0 134,726.0 138,726.8 142,724.8 146,735.0 150,733.3 154,726.2 158,723.3 162,731.1 166,732.1 170,736.7 174,733.9 178,729.8 182,728.9 186,726.6 190,725.2 194,728.1 198,725.3 202,727.0 206,722.6 210,725.5 214,723.3 218,717.2 222,722.2 226,717.5 230,733.7 234,724.1 238,725.2 242,728.2 246,724.1 250,720.2 254,722.8 258,721.7 262,722.4 266,720.9 270,719.6 274,719.6 278,714.0 282,714.9 286,713.2 290,735.3 294,743.6 298,736.8 302,735.9 306,735.0 310,730.7 314,727.5 318,722.3 322,730.4 326,730.8 330,734.8 334,737.8 338,733.0 342,730.0 346,735.4 350,735.8 354,729.1 358,729.5 362,727.4 366,732.6 370,734.6 374,728.8 378,752.2 382,756.2 386,751.0 390,746.7 394,744.9 398,734.9 402,741.4 406,746.6 410,742.8 414,736.5 418,737.9 422,740.1 426,734.5 430,738.8 434,731.2 438,736.7 442,738.1 446,738.4 450,743.6 454,741.4 458,745.4 462,745.7 466,739.4 470,740.1 474,745.2 478,750.7 482,747.6 486,758.0 490,761.8 494,766.6 498,765.7 502,761.7 506,763.1 510,756.8 514,745.3 518,745.8 522,741.7 526,747.7 530,745.0 534,755.6 538,754.4 542,756.5 546,763.8 550,762.2 554,745.4 558,739.0 562,742.3 566,739.1 570,736.0 574,736.8 578,732.2 582,738.2 586,735.8 590,737.0 594,738.6 598,739.8 602,749.4 606,755.0 610,750.7 614,755.8 618,759.1 622,759.3 626,760.5 630,752.6 634,744.1 638,746.5 642,747.6 646,742.8 650,736.6 654,737.6 658,738.6 662,744.9 666,746.5 670,739.7 674,742.1 678,737.5 682,739.7 686,750.3 690,738.1 694,734.4 698,737.1 702,735.6 706,730.1 710,730.5 714,737.0 718,736.6 722,734.9 726,739.7 730,737.1 734,742.9 738,736.2 742,737.1 746,736.6 750,732.0 754,741.2 758,742.0 762,737.5 766,749.7 770,738.7 774,735.6 778,730.7 782,727.9 786,723.9 790,728.4 794,727.6 798,729.5 802,731.4 806,724.6 810,730.0 814,714.4 818,712.5 822,710.4 826,703.6 830,702.1 834,693.6 838,699.1 842,698.9 846,695.8 850,694.6 854,699.6 858,702.7 862,701.2 866,703.6 870,711.5 874,714.2 878,711.3 882,709.4 886,708.1 890,710.7 894,717.2 898,715.6 902,714.7 906,714.2 910,710.2 914,709.9 918,721.0 922,720.3 926,718.9 930,717.8 934,717.8 938,738.6 942,739.9 946,750.7 950,748.7 954,743.6 958,738.9 962,739.7 966,744.6 970,745.4 974,750.0 978,737.2 982,737.6 986,741.1 990,731.4 994,734.2 998,731.9 1002,741.5 1006,739.1 1010,736.7 1014,739.4 1018,737.8 1022,738.3 1026,739.9 1030,735.2 1034,734.6 1038,734.6 1042,740.2 1046,741.9 1050,734.3 1054,727.8 1058,731.2 1062,720.4 1066,702.6 1070,701.5 1074,686.1 1078,710.8 1082,707.0 1086,708.0 1090,706.6 1094,706.4 1098,726.7 1102,721.8 1106,722.5 1110,722.9 1114,718.5 1118,719.5 1122,720.3 1126,716.3 1130,709.9 1134,706.2 1138,708.3" fill="none" stroke="#1e90ff" stroke-width="1" shape-rendering="crispEdges" />
</g>
<path d="M1128 24 L1137 24 L1132.5 29 Z" fill="#c0c0c0"/>
<path d="M2 793 L2 799 L8 799 Z" fill="#c8c8c8"/>
<rect x="2" y="800" width="1" height="3" fill="#000"/>
<text x="1" y="812" font-size="9.6" fill="#000" font-weight="normal" text-anchor="start" stroke="#000" stroke-width="0.2" textLength="46.5" lengthAdjust="spacingAndGlyphs" >24 Jul 2018</text>
<rect x="66" y="800" width="1" height="3" fill="#000"/>
<text x="66" y="812" font-size="9.6" fill="#000" font-weight="normal" text-anchor="start" stroke="#000" stroke-width="0.2" textLength="50.5" lengthAdjust="spacingAndGlyphs" >15 Aug 2018</text>
<rect x="130" y="800" width="1" height="3" fill="#000"/>
<text x="130" y="812" font-size="9.6" fill="#000" font-weight="normal" text-anchor="start" stroke="#000" stroke-width="0.2" textLength="46.0" lengthAdjust="spacingAndGlyphs" >6 Sep 2018</text>
<rect x="194" y="800" width="1" height="3" fill="#000"/>
<text x="194" y="812" font-size="9.6" fill="#000" font-weight="normal" text-anchor="start" stroke="#000" stroke-width="0.2" textLength="51.0" lengthAdjust="spacingAndGlyphs" >28 Sep 2018</text>
<rect x="258" y="800" width="1" height="3" fill="#000"/>
<text x="258" y="812" font-size="9.6" fill="#000" font-weight="normal" text-anchor="start" stroke="#000" stroke-width="0.2" textLength="49.0" lengthAdjust="spacingAndGlyphs" >22 Oct 2018</text>
<rect x="322" y="800" width="1" height="3" fill="#000"/>
<text x="322" y="812" font-size="9.6" fill="#000" font-weight="normal" text-anchor="start" stroke="#000" stroke-width="0.2" textLength="51.0" lengthAdjust="spacingAndGlyphs" >13 Nov 2018</text>
<rect x="386" y="800" width="1" height="3" fill="#000"/>
<text x="386" y="812" font-size="9.6" fill="#000" font-weight="normal" text-anchor="start" stroke="#000" stroke-width="0.2" textLength="46.0" lengthAdjust="spacingAndGlyphs" >5 Dec 2018</text>
<rect x="450" y="800" width="1" height="3" fill="#000"/>
<text x="450" y="812" font-size="9.6" fill="#000" font-weight="normal" text-anchor="start" stroke="#000" stroke-width="0.2" textLength="51.0" lengthAdjust="spacingAndGlyphs" >27 Dec 2018</text>
<rect x="514" y="800" width="1" height="3" fill="#000"/>
<text x="514" y="812" font-size="9.6" fill="#000" font-weight="normal" text-anchor="start" stroke="#000" stroke-width="0.2" textLength="49.5" lengthAdjust="spacingAndGlyphs" >18 Jan 2019</text>
<rect x="578" y="800" width="1" height="3" fill="#000"/>
<text x="578" y="812" font-size="9.6" fill="#000" font-weight="normal" text-anchor="start" stroke="#000" stroke-width="0.2" textLength="49.9" lengthAdjust="spacingAndGlyphs" >11 Feb 2019</text>
<rect x="642" y="800" width="1" height="3" fill="#000"/>
<text x="642" y="812" font-size="9.6" fill="#000" font-weight="normal" text-anchor="start" stroke="#000" stroke-width="0.2" textLength="45.5" lengthAdjust="spacingAndGlyphs" >5 Mar 2019</text>
<rect x="706" y="800" width="1" height="3" fill="#000"/>
<text x="706" y="812" font-size="9.6" fill="#000" font-weight="normal" text-anchor="start" stroke="#000" stroke-width="0.2" textLength="50.5" lengthAdjust="spacingAndGlyphs" >27 Mar 2019</text>
<rect x="770" y="800" width="1" height="3" fill="#000"/>
<text x="770" y="812" font-size="9.6" fill="#000" font-weight="normal" text-anchor="start" stroke="#000" stroke-width="0.2" textLength="48.5" lengthAdjust="spacingAndGlyphs" >18 Apr 2019</text>
<rect x="834" y="800" width="1" height="3" fill="#000"/>
<text x="834" y="812" font-size="9.6" fill="#000" font-weight="normal" text-anchor="start" stroke="#000" stroke-width="0.2" textLength="52.0" lengthAdjust="spacingAndGlyphs" >13 May 2019</text>
<rect x="898" y="800" width="1" height="3" fill="#000"/>
<text x="898" y="812" font-size="9.6" fill="#000" font-weight="normal" text-anchor="start" stroke="#000" stroke-width="0.2" textLength="44.5" lengthAdjust="spacingAndGlyphs" >4 Jun 2019</text>
<rect x="962" y="800" width="1" height="3" fill="#000"/>
<text x="962" y="812" font-size="9.6" fill="#000" font-weight="normal" text-anchor="start" stroke="#000" stroke-width="0.2" textLength="49.5" lengthAdjust="spacingAndGlyphs" >26 Jun 2019</text>
<rect x="1026" y="800" width="1" height="3" fill="#000"/>
<text x="1026" y="812" font-size="9.6" fill="#000" font-weight="normal" text-anchor="start" stroke="#000" stroke-width="0.2" textLength="46.5" lengthAdjust="spacingAndGlyphs" >18 Jul 2019</text>
<rect x="1090" y="800" width="1" height="3" fill="#000"/>
<text x="1090" y="812" font-size="9.6" fill="#000" font-weight="normal" text-anchor="start" stroke="#000" stroke-width="0.2" textLength="45.5" lengthAdjust="spacingAndGlyphs" >9 Aug 2019</text>
<rect x="0" y="820" width="1458" height="1" fill="#e0e0e0"/>
<rect x="0" y="822" width="1458" height="1" fill="#000"/>
<rect x="0" y="823" width="1458" height="20" fill="#f0f0f0"/>
<text x="14.2" y="836.5" font-size="12" fill="#6d6d6d" font-weight="normal" text-anchor="start" textLength="84.8" lengthAdjust="spacingAndGlyphs" >EURUSD-,Daily</text>
<text x="121.3" y="836.5" font-size="12" fill="#6d6d6d" font-weight="normal" text-anchor="start" textLength="86.7" lengthAdjust="spacingAndGlyphs" >AUDUSD-,Daily</text>
<text x="231" y="836.5" font-size="12" fill="#6d6d6d" font-weight="normal" text-anchor="start" textLength="83.7" lengthAdjust="spacingAndGlyphs" >USDCHF-,Daily</text>
<text x="338.6" y="836.5" font-size="12" fill="#6d6d6d" font-weight="normal" text-anchor="start" textLength="85.4" lengthAdjust="spacingAndGlyphs" >USDCAD-,Daily</text>
<text x="557.8" y="836.5" font-size="12" fill="#6d6d6d" font-weight="normal" text-anchor="start" textLength="97.0" lengthAdjust="spacingAndGlyphs" >EURCHF-,Weekly</text>
<text x="678.9" y="836.5" font-size="12" fill="#6d6d6d" font-weight="normal" text-anchor="start" textLength="100.0" lengthAdjust="spacingAndGlyphs" >XAUUSD-,Weekly</text>
<text x="802" y="836.5" font-size="12" fill="#6d6d6d" font-weight="normal" text-anchor="start" textLength="73" lengthAdjust="spacingAndGlyphs" >GBPUSD-,H1</text>
<text x="898.5" y="836.5" font-size="12" fill="#6d6d6d" font-weight="normal" text-anchor="start" textLength="56.3" lengthAdjust="spacingAndGlyphs" >UKOil-,H1</text>
<text x="977" y="836.5" font-size="12" fill="#6d6d6d" font-weight="normal" text-anchor="start" textLength="83.4" lengthAdjust="spacingAndGlyphs" >USDX-,Weekly</text>
<rect x="111" y="826" width="1" height="13" fill="#6d6d6d"/>
<rect x="219" y="826" width="1" height="13" fill="#6d6d6d"/>
<rect x="327" y="826" width="1" height="13" fill="#6d6d6d"/>
<rect x="667" y="826" width="1" height="13" fill="#6d6d6d"/>
<rect x="791" y="826" width="1" height="13" fill="#6d6d6d"/>
<rect x="887" y="826" width="1" height="13" fill="#6d6d6d"/>
<rect x="967" y="826" width="1" height="13" fill="#6d6d6d"/>
<rect x="1073" y="826" width="1" height="13" fill="#6d6d6d"/>
<path d="M435.5 822 V840.5 H546.5 V822" fill="#fff" stroke="#000" stroke-width="1"/>
<rect x="436" y="822" width="110" height="1" fill="#fff"/>
<text x="447.9" y="836.5" font-size="12" fill="#000" font-weight="normal" text-anchor="start" textLength="87" lengthAdjust="spacingAndGlyphs" >USDCNH-,Daily</text>
<path d="M1436.5 827 L1433 831 L1436.5 835 Z" fill="#a0a0a0"/><path d="M1452 827 L1455.5 831 L1452 835 Z" fill="#a0a0a0"/>
<linearGradient id="pg" gradientUnits="userSpaceOnUse" x1="0" y1="43" x2="0" y2="107"><stop offset="0" stop-color="#fb5555"/><stop offset="0.37" stop-color="#e43a3a"/><stop offset="1" stop-color="#b00505"/></linearGradient>
<path d="M5.5 43.5 H56.5 V67.5 H113.5 V106.5 H5.5 Z" fill="url(#pg)" stroke="#b80000" stroke-width="1"/>
<path d="M116.5 67.5 H172.5 V43.5 H223.5 V106.5 H116.5 Z" fill="url(#pg)" stroke="#b80000" stroke-width="1"/>
<rect x="9" y="66" width="44" height="1" fill="#7a0000"/><rect x="9" y="67" width="44" height="1" fill="#ff7070"/>
<rect x="176" y="66" width="44" height="1" fill="#7a0000"/><rect x="176" y="67" width="44" height="1" fill="#ff7070"/>
<rect x="57" y="43" width="115" height="24" fill="#fff"/>
<rect x="59.5" y="43.5" width="110" height="21" fill="#fff" stroke="#a8aab0"/>
<rect x="60" y="44" width="20" height="20" fill="url(#gg)"/><rect x="80" y="44" width="1" height="20" fill="#b0b2b8"/>
<rect x="149" y="44" width="20" height="20" fill="url(#gg)"/><rect x="148" y="44" width="1" height="20" fill="#b0b2b8"/>
<path d="M67 53 L72 53 L69.5 56 Z" fill="#5060c8"/><path d="M156 56 L161 56 L158.5 53 Z" fill="#5060c8"/>
<text x="121.4" y="58" font-size="13" fill="#000" font-weight="normal" text-anchor="start" textLength="23.6" lengthAdjust="spacingAndGlyphs" >1.00</text>
<text x="17.5" y="59" font-size="12.5" fill="#fff" font-weight="normal" text-anchor="start" textLength="25.5" lengthAdjust="spacingAndGlyphs" >SELL</text>
<text x="185.6" y="59" font-size="12.5" fill="#fff" font-weight="normal" text-anchor="start" textLength="23.2" lengthAdjust="spacingAndGlyphs" >BUY</text>
<text x="25" y="97.8" font-size="12" fill="#fff" font-weight="bold" text-anchor="start" textLength="24" lengthAdjust="spacingAndGlyphs" >7.16</text>
<text x="53" y="97.8" font-size="35" fill="#fff" font-weight="normal" text-anchor="start" textLength="34.5" lengthAdjust="spacingAndGlyphs" >00</text>
<text x="92" y="82" font-size="11" fill="#fff" font-weight="bold" text-anchor="start" textLength="7" lengthAdjust="spacingAndGlyphs" >9</text>
<text x="134.8" y="97.8" font-size="12" fill="#fff" font-weight="bold" text-anchor="start" textLength="24" lengthAdjust="spacingAndGlyphs" >7.16</text>
<text x="164.6" y="97.8" font-size="35" fill="#fff" font-weight="normal" text-anchor="start" textLength="33.8" lengthAdjust="spacingAndGlyphs" >24</text>
<text x="203.7" y="82" font-size="11" fill="#fff" font-weight="bold" text-anchor="start" textLength="6.2" lengthAdjust="spacingAndGlyphs" >6</text></svg></body></html>
